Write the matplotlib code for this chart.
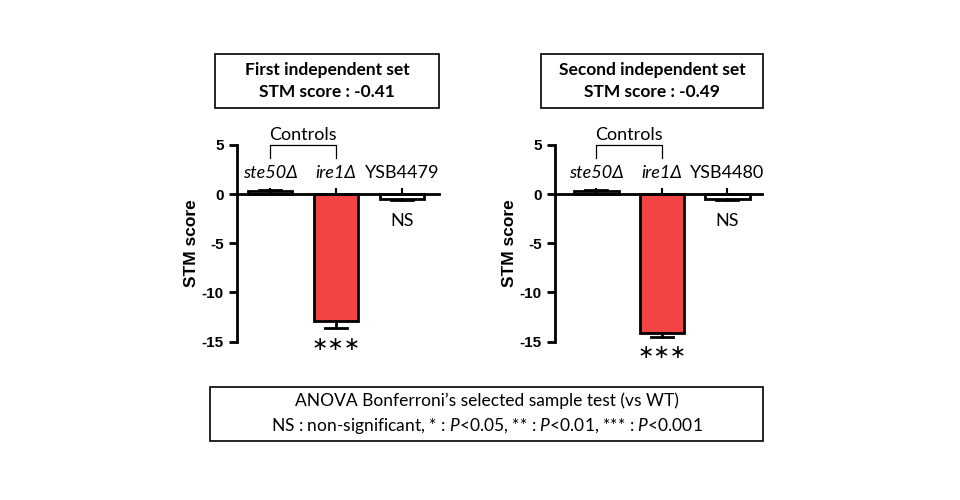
import matplotlib
matplotlib.use("Agg")
import matplotlib.pyplot as plt
from matplotlib.patches import Rectangle

plt.rcParams['font.family'] = ['Lato', 'DejaVu Sans']
plt.rcParams['mathtext.fontset'] = 'custom'
plt.rcParams['mathtext.rm'] = 'Lato'
plt.rcParams['mathtext.it'] = 'Lato:italic'
plt.rcParams['mathtext.bf'] = 'Lato:bold'

# ---- data ----
strains1 = ["ste50Δ", "ire1Δ", "YSB4479"]
strains2 = ["ste50Δ", "ire1Δ", "YSB4480"]
italic_flags = [True, True, False]
values1 = [0.35, -12.9, -0.45]
errors1 = [0.12, 0.75, 0.1]
values2 = [0.35, -14.1, -0.5]
errors2 = [0.12, 0.4, 0.1]
signif1 = ["", "***", "NS"]
signif2 = ["", "***", "NS"]
bar_colors = ["white", "#F24444", "white"]
yticks = [5, 0, -5, -10, -15]
titles = ["First independent set\nSTM score : -0.41",
          "Second independent set\nSTM score : -0.49"]
footer = ("ANOVA Bonferroni\u2019s selected sample test (vs WT)\n"
          "NS : non-significant, * : $P$<0.05, ** : $P$<0.01, *** : $P$<0.001")

W, H = 960, 500
fig = plt.figure(figsize=(9.6, 5.0), dpi=100)

def fx(px):
    return px / W

def fy(py):
    return 1 - py / H

def box(x0, y0, x1, y1):
    fig.patches.append(Rectangle((fx(x0), fy(y1)), fx(x1) - fx(x0), fy(y0) - fy(y1),
                                 transform=fig.transFigure, fill=False,
                                 edgecolor='black', linewidth=1.2))

panels = [
    dict(ax_px=(237, 439), xlim=(-0.5, 2.56), strains=strains1, values=values1,
         errors=errors1, signif=signif1, title=titles[0], tbox=(215, 54, 439, 108)),
    dict(ax_px=(555, 762), xlim=(-0.63, 2.53), strains=strains2, values=values2,
         errors=errors2, signif=signif2, title=titles[1], tbox=(541, 54, 763, 108)),
]

y_top_px, y_bot_px = 145, 341.5

for p in panels:
    x0, x1 = p['ax_px']
    ax = fig.add_axes([fx(x0), fy(y_bot_px), fx(x1) - fx(x0), fy(y_top_px) - fy(y_bot_px)])
    ax.patch.set_alpha(0)
    pos = list(range(len(p['strains'])))
    ax.bar(pos, p['values'], width=0.68, color=bar_colors, edgecolor='black',
           linewidth=2.0, zorder=2)
    for xi, v, e in zip(pos, p['values'], p['errors']):
        end = v + e if v >= 0 else v - e
        ax.plot([xi, xi], [v, end], color='black', lw=2.0, zorder=3)
        ax.plot([xi - 0.17, xi + 0.17], [end, end], color='black', lw=2.0, zorder=3)
    ax.set_xlim(*p['xlim'])
    ax.set_ylim(-15, 5)
    for s in ['top', 'right']:
        ax.spines[s].set_visible(False)
    ax.spines['bottom'].set_position(('data', 0))
    ax.spines['bottom'].set_linewidth(2.0)
    ax.spines['left'].set_linewidth(2.0)
    ax.spines['bottom'].set_zorder(4)
    ax.set_xticks(pos)
    ax.set_xticklabels([])
    ax.tick_params(axis='x', direction='in', length=4, width=1.5)
    ax.set_yticks(yticks)
    ax.set_yticklabels([str(t) for t in yticks], fontweight='bold',
                       family=['Liberation Sans'], fontsize=11)
    ax.tick_params(axis='y', direction='out', length=6, width=2.0)
    ax.set_ylabel("STM score", fontweight='bold', family=['Liberation Sans'],
                  fontsize=12.5, labelpad=2)
    # strain labels
    for xi, name, it in zip(pos, p['strains'], italic_flags):
        ax.text(xi, 2.2, name, ha='center', va='center', fontsize=13,
                style='italic' if it else 'normal')
    # Controls bracket
    ax.plot([0, 0, 1, 1], [3.7, 5.05, 5.05, 3.7], color='black', lw=0.9,
            clip_on=False)
    ax.text(0.5, 5.2, "Controls", ha='center', va='bottom', fontsize=13)
    # significance
    for xi, v, e, s in zip(pos, p['values'], p['errors'], p['signif']):
        if s == "NS":
            ax.text(xi, -2.7, s, ha='center', va='center', fontsize=13)
        elif s:
            ax.text(xi, v - e - 1.65, "\u2217" * len(s), ha='center', va='center',
                    fontsize=14, family=['DejaVu Sans'], clip_on=False)
    # title boxes
    bx0, by0, bx1, by1 = p['tbox']
    box(bx0, by0, bx1, by1)
    fig.text(fx((bx0 + bx1) / 2), fy((by0 + by1) / 2), p['title'], ha='center',
             va='center', fontsize=12.5, fontweight='bold', linespacing=1.45)

box(210, 387, 763, 441)
fig.text(fx((210 + 763) / 2), fy(414), footer, ha='center', va='center',
         fontsize=12.5, linespacing=1.45)

fig.savefig("out.png", dpi=100)
